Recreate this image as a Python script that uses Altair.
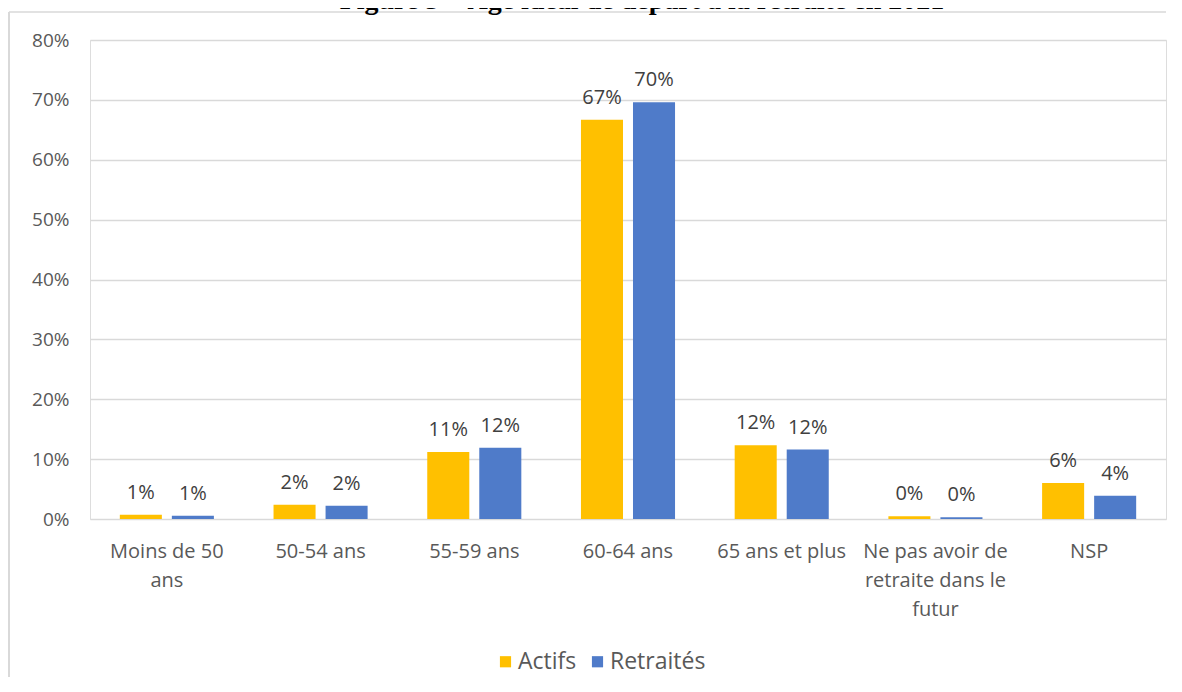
import altair as alt
import pandas as pd

categories = ["Moins de 50 ans", "50-54 ans", "55-59 ans", "60-64 ans",
              "65 ans et plus", "Ne pas avoir de retraite dans le futur", "NSP"]
series = ["Actifs", "Retraités"]
actifs = [0.007, 0.024, 0.112, 0.667, 0.123, 0.0045, 0.060]
retraites = [0.0055, 0.022, 0.119, 0.696, 0.116, 0.003, 0.039]
title_text = "Figure 3 – Âge idéal de départ à la retraite en 2021"
colors = ["#FFC000", "#4F7BC9"]

rows = []
for c, a, r in zip(categories, actifs, retraites):
    rows.append({"cat": c, "serie": "Actifs", "val": a})
    rows.append({"cat": c, "serie": "Retraités", "val": r})
df = pd.DataFrame(rows)

FONT = "Open Sans"
label_expr = ("datum.value == 'Moins de 50 ans' ? ['Moins de 50', 'ans'] : "
              "datum.value == 'Ne pas avoir de retraite dans le futur' ? "
              "['Ne pas avoir de', 'retraite dans le', 'futur'] : datum.value")

x_enc = alt.X("cat:N", sort=categories, title=None,
              scale=alt.Scale(paddingInner=0.388, paddingOuter=0.194),
              axis=alt.Axis(labelExpr=label_expr, labelFont=FONT, labelFontSize=20,
                            labelColor="#595959", labelLineHeight=29, labelPadding=22,
                            labelAngle=0, ticks=False, domain=False, grid=False,
                            labelOverlap=False, labelLimit=400, labelBound=False))
xoff = alt.XOffset("serie:N", sort=series,
                   scale=alt.Scale(paddingInner=0.192, paddingOuter=0))
y_enc = alt.Y("val:Q", title=None,
              scale=alt.Scale(domain=[0, 0.8], nice=False),
              axis=alt.Axis(values=[0, 0.1, 0.2, 0.3, 0.4, 0.5, 0.6, 0.7, 0.8],
                            format=".0%", labelFont=FONT, labelFontSize=19,
                            labelColor="#595959", labelPadding=21, ticks=False,
                            domain=False, gridColor="#d9d9d9", gridWidth=1.6))
color_enc = alt.Color("serie:N", sort=series,
                      scale=alt.Scale(domain=series, range=colors),
                      legend=alt.Legend(orient="none", legendX=404, legendY=610,
                                        direction="horizontal", title=None,
                                        symbolType="square", symbolSize=125,
                                        symbolStrokeWidth=0, labelFont=FONT,
                                        labelFontSize=23, labelColor="#595959",
                                        labelOffset=1, columnPadding=9, padding=0))

base = alt.Chart(df)
bars = base.mark_bar().encode(x=x_enc, xOffset=xoff, y=y_enc, color=color_enc)
labels = base.mark_text(font=FONT, fontSize=20, color="#404040",
                        baseline="alphabetic", dy=-16).encode(
    x=alt.X("cat:N", sort=categories), xOffset=alt.XOffset("serie:N", sort=series),
    y="val:Q", text=alt.Text("val:Q", format=".0%"))

frame_data = pd.DataFrame({"k": [0]})
frame_top = alt.Chart(frame_data).mark_rule(color="#d9d9d9", strokeWidth=1.5).encode(
    x=alt.value(-81), x2=alt.value(1076), y=alt.value(-28))
frame_left = alt.Chart(frame_data).mark_rect(color="#d9d9d9", strokeWidth=0).encode(
    x=alt.value(-82), x2=alt.value(-80), y=alt.value(-28), y2=alt.value(640))

title = alt.Chart(pd.DataFrame({"t": [title_text]})).mark_text(
    font="Liberation Serif", fontWeight="bold", fontSize=28, color="#000000",
    align="center", baseline="alphabetic").encode(
    x=alt.value(552), y=alt.value(-31), text="t:N")

chart = alt.layer(frame_top, frame_left, bars, labels, title).properties(
    width=1076, height=479,
    autosize=alt.AutoSizeParams(type="none"),
    padding={"left": 82, "top": 32, "right": 8, "bottom": 158},
).configure_view(strokeWidth=0).configure(background="white")

chart.save("out.html", embed_options={"renderer": "svg", "actions": False})
